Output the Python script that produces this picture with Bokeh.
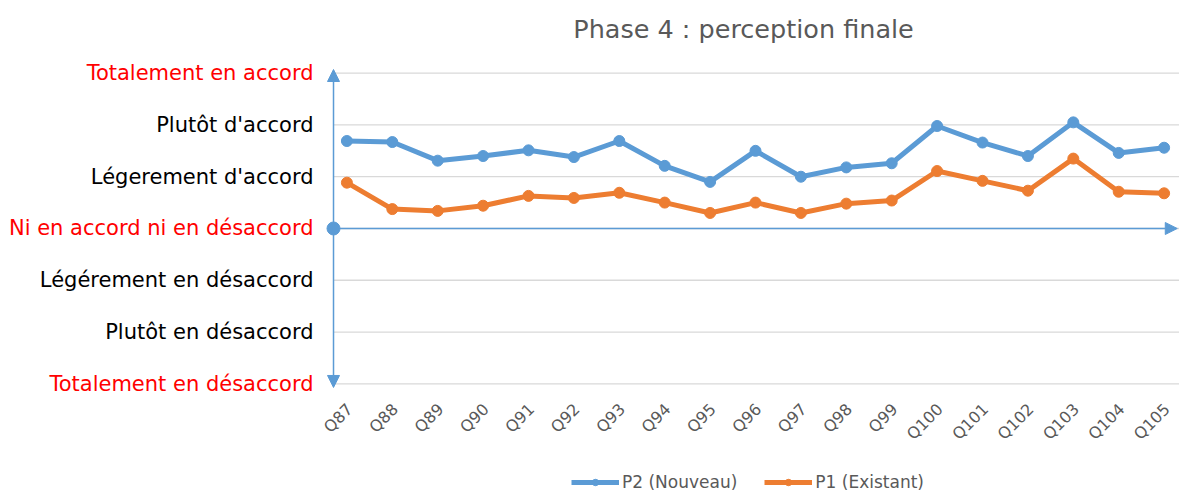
import math
from bokeh.plotting import figure
from bokeh.models import (ColumnDataSource, LabelSet, Label, Arrow, NormalHead,
                          Range1d, Legend, LegendItem)
from bokeh.embed import file_html
from bokeh.resources import INLINE
from bokeh.core.properties import value

# ---------------- data ----------------
questions = ["Q87", "Q88", "Q89", "Q90", "Q91", "Q92", "Q93", "Q94", "Q95", "Q96",
             "Q97", "Q98", "Q99", "Q100", "Q101", "Q102", "Q103", "Q104", "Q105"]
p2_nouveau = [1.69, 1.67, 1.31, 1.40, 1.51, 1.38, 1.69, 1.21, 0.90, 1.50,
              1.00, 1.18, 1.26, 1.98, 1.66, 1.40, 2.05, 1.46, 1.56]
p1_existant = [0.885, 0.375, 0.34, 0.44, 0.63, 0.59, 0.69, 0.50, 0.30, 0.50,
               0.30, 0.48, 0.54, 1.11, 0.92, 0.73, 1.35, 0.71, 0.68]
scale_levels = [-3, -2, -1, 0, 1, 2, 3]
scale_labels = ["Totalement en désaccord", "Plutôt en désaccord", "Légérement en désaccord",
                "Ni en accord ni en désaccord", "Légerement d'accord", "Plutôt d'accord",
                "Totalement en accord"]
scale_colors = ["#FF0000", "#000000", "#000000", "#FF0000", "#000000", "#000000", "#FF0000"]
title_text = "Phase 4 : perception finale"

# ---------------- style / layout ----------------
BLUE = "#5B9BD5"
ORANGE = "#ED7D31"
GREY = "#595959"
FONT = "DejaVu Sans"

x_idx = list(range(len(questions)))
# whole canvas is the data frame; plot area is drawn inside it
XR0, XR1 = -7.630, 18.339
YR0, YR1 = -5.119, 4.404
XA = -0.295            # position of the vertical axis
YA0, YA1 = -3.071, 3.071   # vertical axis arrow extent
ARROW_END = 18.29

p = figure(width=1179, height=493, output_backend="svg", toolbar_location=None,
           x_range=Range1d(XR0, XR1), y_range=Range1d(YR0, YR1),
           min_border=0)
p.outline_line_color = None
p.background_fill_color = "white"
p.xaxis.visible = False
p.yaxis.visible = False
p.xgrid.visible = False
p.ygrid.visible = False

# horizontal grid lines at each scale level
grid_src = ColumnDataSource(dict(y=scale_levels, x0=[XA] * len(scale_levels),
                                 x1=[XR1] * len(scale_levels)))
p.segment(x0="x0", y0="y", x1="x1", y1="y", source=grid_src,
          line_color="#D9D9D9", line_width=1.3)

# axis arrows
p.add_layout(Arrow(x_start=XA, y_start=0, x_end=ARROW_END, y_end=0,
                   line_color=BLUE, line_width=1.5,
                   end=NormalHead(size=12, fill_color=BLUE, line_color=BLUE)))
p.add_layout(Arrow(x_start=XA, y_start=YA0, x_end=XA, y_end=YA1,
                   line_color=BLUE, line_width=1.5,
                   start=NormalHead(size=12, fill_color=BLUE, line_color=BLUE),
                   end=NormalHead(size=12, fill_color=BLUE, line_color=BLUE)))
p.scatter(x=[XA], y=[0], size=13, color=BLUE)

# series
src = ColumnDataSource(dict(x=x_idx, q=questions, p2=p2_nouveau, p1=p1_existant,
                            base=[YA0] * len(questions)))
l2 = p.line("x", "p2", source=src, line_color=BLUE, line_width=5)
s2 = p.scatter("x", "p2", source=src, size=11, color=BLUE)
l1 = p.line("x", "p1", source=src, line_color=ORANGE, line_width=5)
s1 = p.scatter("x", "p1", source=src, size=11, color=ORANGE)

# x category labels (rotated)
p.add_layout(LabelSet(x="x", y="base", text="q", source=src, x_offset=3, y_offset=-19,
                      angle=math.pi / 4, text_align="right", text_baseline="middle",
                      text_color=GREY, text_font=value(FONT),
                      text_font_size=value("16px")))

# y category labels
lab_src = ColumnDataSource(dict(x=[XA] * len(scale_levels), y=scale_levels,
                                text=scale_labels, color=scale_colors))
p.add_layout(LabelSet(x="x", y="y", text="text", source=lab_src, x_offset=-20,
                      text_align="right", text_baseline="middle",
                      text_color="color", text_font=value(FONT),
                      text_font_size=value("21px")))

# title
p.add_layout(Label(x=8.736, y=3.863, text=title_text, text_align="center",
                   text_baseline="middle", text_font=FONT, text_font_size="25.5px",
                   text_color=GREY))

# legend
legend = Legend(items=[LegendItem(label="P2 (Nouveau)", renderers=[l2, s2]),
                       LegendItem(label="P1 (Existant)", renderers=[l1, s1])],
                orientation="horizontal", location=(571, 1),
                glyph_width=48, glyph_height=16, label_standoff=3, spacing=27,
                label_text_font=FONT, label_text_font_size="17px",
                label_text_color=GREY, border_line_color=None,
                background_fill_alpha=0, padding=2, margin=0)
p.add_layout(legend, "center")

open("out.html", "w").write(file_html(p, INLINE))
